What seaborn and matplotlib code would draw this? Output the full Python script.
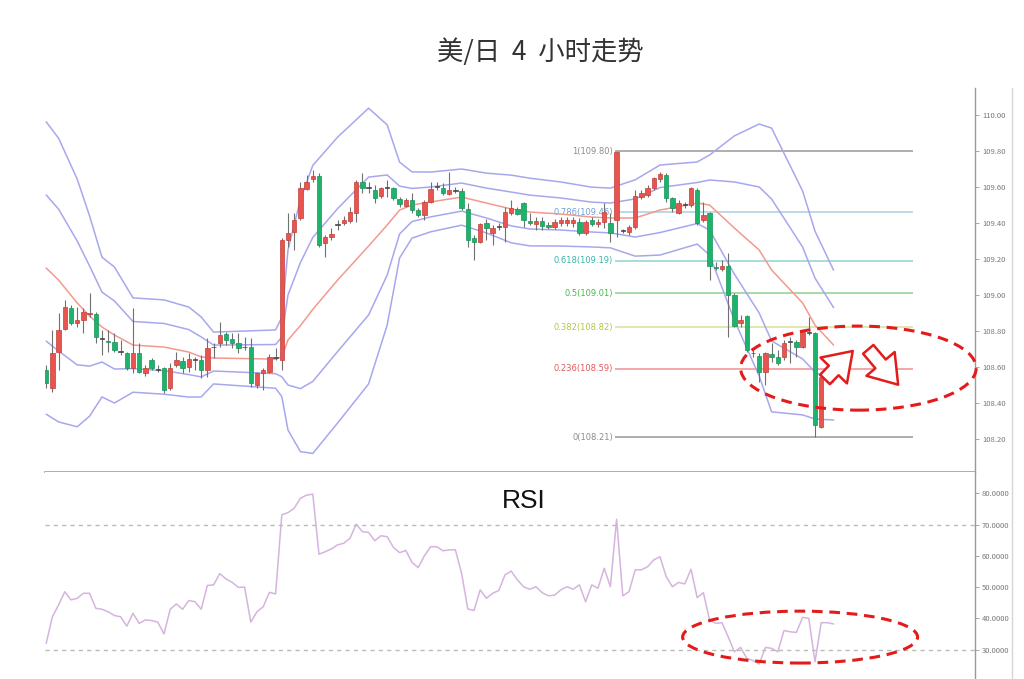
import numpy as np
import pandas as pd
import matplotlib
matplotlib.use("Agg")
import matplotlib.pyplot as plt
import seaborn as sns
from matplotlib.patches import Ellipse, FancyArrowPatch
from matplotlib.lines import Line2D

sns.set_style("white")
plt.rcParams['font.family'] = ['Noto Sans CJK SC', 'DejaVu Sans']

# USD/JPY 4h candles
opens = [108.584, 108.484, 108.684, 108.811, 108.928, 108.845, 108.861, 108.895, 108.895, 108.761,
         108.745, 108.739, 108.689, 108.678, 108.595, 108.678, 108.567, 108.639, 108.589, 108.595,
         108.484, 108.611, 108.634, 108.600, 108.639, 108.639, 108.584, 108.711, 108.734, 108.784,
         108.756, 108.734, 108.711, 108.711, 108.500, 108.567, 108.572, 108.650, 108.639, 109.306,
         109.350, 109.428, 109.589, 109.645, 109.661, 109.289, 109.322, 109.389, 109.400, 109.411,
         109.456, 109.628, 109.595, 109.583, 109.550, 109.595, 109.595, 109.534, 109.495, 109.528,
         109.472, 109.445, 109.517, 109.600, 109.595, 109.561, 109.578, 109.578, 109.478, 109.317,
         109.295, 109.400, 109.345, 109.378, 109.378, 109.456, 109.478, 109.511, 109.411, 109.395,
         109.411, 109.389, 109.378, 109.400, 109.400, 109.400, 109.406, 109.345, 109.417, 109.395,
         109.406, 109.400, 109.417, 109.356, 109.350, 109.378, 109.545, 109.556, 109.595, 109.645,
         109.667, 109.539, 109.456, 109.500, 109.500, 109.583, 109.417, 109.456, 109.156, 109.145,
         109.161, 109.000, 108.845, 108.884, 108.678, 108.661, 108.572, 108.672, 108.656, 108.656,
         108.739, 108.739, 108.711, 108.789, 108.789, 108.267, 108.550, 108.567]
highs = [108.611, 108.806, 108.900, 108.972, 108.945, 108.934, 108.928, 109.011, 108.906, 108.806,
         108.806, 108.789, 108.750, 108.684, 108.928, 108.734, 108.611, 108.650, 108.611, 108.600,
         108.622, 108.684, 108.656, 108.678, 108.656, 108.667, 108.761, 108.734, 108.850, 108.795,
         108.789, 108.789, 108.767, 108.761, 108.572, 108.595, 108.672, 108.706, 109.317, 109.456,
         109.456, 109.628, 109.667, 109.695, 109.678, 109.334, 109.373, 109.417, 109.439, 109.489,
         109.639, 109.678, 109.628, 109.611, 109.600, 109.639, 109.600, 109.545, 109.539, 109.567,
         109.483, 109.528, 109.628, 109.628, 109.622, 109.683, 109.600, 109.595, 109.511, 109.334,
         109.400, 109.423, 109.389, 109.400, 109.489, 109.528, 109.489, 109.517, 109.456, 109.434,
         109.434, 109.406, 109.423, 109.434, 109.434, 109.434, 109.428, 109.417, 109.434, 109.423,
         109.511, 109.456, 109.800, 109.367, 109.389, 109.583, 109.583, 109.611, 109.656, 109.683,
         109.678, 109.545, 109.528, 109.517, 109.600, 109.595, 109.517, 109.461, 109.184, 109.195,
         109.234, 109.011, 108.889, 108.889, 108.695, 108.678, 108.684, 108.734, 108.695, 108.750,
         108.767, 108.750, 108.806, 108.878, 108.795, 108.572, 108.639, 108.584]
lows = [108.484, 108.461, 108.584, 108.806, 108.834, 108.822, 108.789, 108.878, 108.734, 108.667,
        108.684, 108.684, 108.667, 108.584, 108.567, 108.567, 108.550, 108.584, 108.572, 108.456,
        108.472, 108.600, 108.567, 108.572, 108.584, 108.539, 108.545, 108.650, 108.711, 108.722,
        108.706, 108.678, 108.695, 108.489, 108.484, 108.472, 108.567, 108.639, 108.584, 109.267,
        109.250, 109.417, 109.583, 109.628, 109.267, 109.211, 109.306, 109.361, 109.389, 109.400,
        109.406, 109.567, 109.567, 109.511, 109.539, 109.545, 109.528, 109.489, 109.489, 109.456,
        109.434, 109.417, 109.511, 109.583, 109.556, 109.556, 109.567, 109.472, 109.267, 109.195,
        109.289, 109.306, 109.278, 109.361, 109.295, 109.445, 109.445, 109.378, 109.389, 109.361,
        109.361, 109.367, 109.367, 109.384, 109.384, 109.378, 109.334, 109.334, 109.384, 109.378,
        109.373, 109.295, 109.322, 109.345, 109.334, 109.367, 109.534, 109.545, 109.583, 109.628,
        109.517, 109.461, 109.450, 109.483, 109.489, 109.389, 109.406, 109.084, 109.139, 109.134,
        108.767, 108.822, 108.822, 108.684, 108.656, 108.517, 108.500, 108.628, 108.611, 108.639,
        108.622, 108.656, 108.706, 108.778, 108.210, 108.261, 108.528, 108.534]
closes = [108.511, 108.678, 108.806, 108.934, 108.845, 108.861, 108.906, 108.900, 108.767, 108.756,
          108.739, 108.695, 108.684, 108.595, 108.678, 108.572, 108.595, 108.595, 108.586, 108.472,
          108.595, 108.639, 108.595, 108.645, 108.641, 108.584, 108.706, 108.709, 108.778, 108.750,
          108.734, 108.706, 108.709, 108.511, 108.567, 108.584, 108.656, 108.652, 109.306, 109.345,
          109.417, 109.595, 109.628, 109.661, 109.278, 109.322, 109.339, 109.391, 109.417, 109.461,
          109.628, 109.595, 109.597, 109.539, 109.595, 109.597, 109.539, 109.506, 109.528, 109.472,
          109.445, 109.517, 109.589, 109.602, 109.567, 109.583, 109.580, 109.483, 109.306, 109.295,
          109.395, 109.373, 109.373, 109.380, 109.461, 109.483, 109.450, 109.417, 109.400, 109.411,
          109.384, 109.378, 109.406, 109.417, 109.417, 109.417, 109.345, 109.406, 109.395, 109.406,
          109.461, 109.345, 109.795, 109.358, 109.378, 109.550, 109.567, 109.595, 109.650, 109.672,
          109.539, 109.483, 109.511, 109.502, 109.595, 109.400, 109.445, 109.161, 109.150, 109.161,
          109.000, 108.828, 108.861, 108.695, 108.676, 108.572, 108.678, 108.656, 108.622, 108.734,
          108.741, 108.711, 108.795, 108.791, 108.278, 108.545, 108.552, 108.545]

rsi = [32.0, 40.5, 44.3, 48.5, 45.9, 46.4, 48.0, 48.0, 43.2, 42.9,
       42.1, 40.9, 40.5, 37.5, 41.6, 38.4, 39.5, 39.3, 38.8, 35.0,
       42.9, 44.6, 42.9, 45.7, 45.3, 42.9, 50.5, 50.7, 54.3, 52.6,
       51.5, 49.9, 50.0, 38.8, 42.1, 43.7, 48.3, 47.8, 73.1, 73.8,
       75.2, 78.4, 79.4, 79.7, 60.5, 61.3, 62.2, 63.5, 64.0, 65.6,
       70.1, 67.7, 67.5, 64.8, 66.4, 66.1, 62.7, 61.0, 61.7, 57.9,
       56.2, 60.0, 62.9, 62.9, 61.6, 61.9, 61.9, 54.4, 43.0, 42.5,
       49.1, 46.4, 48.0, 48.9, 53.9, 55.1, 52.3, 50.1, 49.3, 50.1,
       48.2, 47.2, 47.4, 49.1, 50.1, 49.3, 50.7, 45.3, 50.7, 49.6,
       56.0, 50.1, 71.7, 47.2, 48.5, 55.5, 55.5, 56.5, 58.7, 59.7,
       53.3, 50.1, 51.5, 51.0, 55.7, 46.6, 48.2, 39.5, 38.4, 38.6,
       34.1, 29.3, 30.7, 27.2, 26.5, 25.4, 30.7, 30.4, 29.3, 36.1,
       35.7, 35.5, 40.3, 40.0, 26.1, 38.6, 38.6, 38.2]

# bollinger middle line and band spacing, sampled at some candles
bb_idx = [0, 2, 5, 7, 9, 11, 14, 19, 23, 25, 27, 37, 38, 39, 41, 43, 47, 52, 55, 57,
          59, 62, 67, 71, 75, 78, 83, 88, 91, 95, 99, 105, 107, 111, 115, 117, 122, 124, 127]
bb_mid = [109.150, 109.083, 108.956, 108.883, 108.822, 108.778, 108.722, 108.711, 108.683, 108.656,
          108.650, 108.644, 108.656, 108.750, 108.830, 108.920, 109.083, 109.272, 109.389, 109.472,
          109.500, 109.517, 109.544, 109.511, 109.478, 109.461, 109.450, 109.433, 109.428, 109.428,
          109.472, 109.511, 109.500, 109.372, 109.250, 109.139, 108.956, 108.833, 108.722]
bb_dev = [0.406, 0.394, 0.344, 0.278, 0.194, 0.189, 0.131, 0.131, 0.125, 0.111,
          0.072, 0.081, 0.110, 0.250, 0.350, 0.400, 0.397, 0.383, 0.278, 0.133,
          0.092, 0.083, 0.078, 0.083, 0.094, 0.094, 0.089, 0.083, 0.083, 0.106,
          0.125, 0.114, 0.139, 0.256, 0.350, 0.394, 0.311, 0.261, 0.208]

fib_ratios = ['1', '0.786', '0.618', '0.5', '0.382', '0.236', '0']
fib_prices = [109.80, 109.46, 109.19, 109.01, 108.82, 108.59, 108.21]
fib_text_colors = ['#8c8c8c', '#6f9fd6', '#36b6a6', '#44bb44', '#b4c83a', '#e05a5a', '#8c8c8c']
fib_line_colors = ['#999999', '#a9cfe0', '#8fd3cb', '#8fd18f', '#d4e29a', '#f09090', '#999999']

price_ticks = [108.2, 108.4, 108.6, 108.8, 109.0, 109.2, 109.4, 109.6, 109.8, 110.0]
rsi_ticks = [30, 40, 50, 60, 70, 80]
rsi_levels = [70, 30]

df = pd.DataFrame({'open': opens, 'high': highs, 'low': lows, 'close': closes, 'rsi': rsi})
df['idx'] = np.arange(len(df))

fig = plt.figure(figsize=(10.24, 6.79), dpi=100)
ax = fig.add_axes([0.0439, 0.3049, 0.9082, 0.5655])
ax2 = fig.add_axes([0.0439, 0.0, 0.9082, 0.3049])

# Bollinger bands
mid = np.array(bb_mid)
dev = np.array(bb_dev)
for k in [-2, -1, 1, 2]:
    sns.lineplot(x=bb_idx, y=mid + k * dev, color='#a7a7ee', linewidth=1.1, ax=ax, zorder=2)
sns.lineplot(x=bb_idx, y=mid, color='#f29a8e', linewidth=1.1, ax=ax, zorder=2)

# fibonacci levels from the top candle
fib_start = int(np.argmax(highs)) - 0.2
fib_end = 139.8
for r, p, tc, lc in zip(fib_ratios, fib_prices, fib_text_colors, fib_line_colors):
    ax.hlines(p, fib_start, fib_end, color=lc, linewidth=1.1, zorder=1)
    ax.text(fib_start - 0.4, p, f'{r}({p:.2f})', color=tc, fontsize=6, ha='right', va='center',
            family='DejaVu Sans', zorder=1)

# candles (red = up, green = down)
body = (df['close'] - df['open']).abs()
doji = body < 0.005
up = df['close'] > df['open']
colors = np.where(doji, '#555555', np.where(up, '#e8554e', '#1db36b'))
edges = np.where(doji, '#444444', np.where(up, '#c0403a', '#17925a'))
ax.vlines(df['idx'], df['low'], df['high'], color='#707070', linewidth=0.8, zorder=3)
ax.bar(df['idx'], np.maximum(body, 0.004), bottom=df[['open', 'close']].min(axis=1),
       width=0.72, color=colors, edgecolor=edges, linewidth=0.5, zorder=4)

ax.set_xlim(-0.2, 149.8)
ax.set_ylim(108.017, 110.15)
ax.set_yticks(price_ticks)
ax.yaxis.set_major_formatter(matplotlib.ticker.FormatStrFormatter('%.2f'))
ax.set_xticks([])

# highlight ellipse and arrows
ax.add_patch(Ellipse((131, 108.594), 38, 0.467, fill=False, edgecolor='#e41b1b', linewidth=2.2,
                     linestyle=(0, (3.5, 2.2)), clip_on=False, zorder=6))
arrow_style = 'simple,head_width=1.9,head_length=1.4,tail_width=0.7'
for a, b in [((125.3, 108.52), (130.4, 108.70)), ((132.3, 108.71), (137.7, 108.49))]:
    ax.add_patch(FancyArrowPatch(a, b, arrowstyle=arrow_style, mutation_scale=14,
                                 facecolor='white', edgecolor='#e41b1b', linewidth=1.8,
                                 zorder=7, clip_on=False))

# RSI panel
sns.lineplot(data=df, x='idx', y='rsi', color='#d5b4de', linewidth=1.1, ax=ax2)
for lv in rsi_levels:
    ax2.axhline(lv, color='#bbbbbb', linewidth=1, linestyle=(0, (3, 3)))
ax2.set_xlim(-0.2, 149.8)
ax2.set_ylim(20.6, 86.8)
ax2.set_yticks(rsi_ticks)
ax2.yaxis.set_major_formatter(matplotlib.ticker.FormatStrFormatter('%.4f'))
ax2.set_xticks([])
ax2.add_patch(Ellipse((121.6, 34.0), 37.9, 16.6, fill=False, edgecolor='#e41b1b', linewidth=2.2,
                      linestyle=(0, (3.5, 2.2)), clip_on=False, zorder=6))
ax2.text(0.515, 0.86, 'RSI', transform=ax2.transAxes, fontsize=19, ha='center', va='center',
         color='#111111', family='Liberation Sans')

for a in [ax, ax2]:
    a.set_xlabel('')
    a.set_ylabel('')
    for s in ['top', 'left', 'bottom']:
        a.spines[s].set_visible(False)
    a.spines['right'].set_color('#999999')
    a.spines['right'].set_linewidth(1)
    a.yaxis.tick_right()
    a.tick_params(axis='y', length=3, width=0.6, color='#999999', labelsize=5.5,
                  labelcolor='#777777', pad=2)
ax.spines['bottom'].set_visible(True)
ax.spines['bottom'].set_color('#a0a0a0')
ax.spines['bottom'].set_linewidth(1.2)

fig.add_artist(Line2D([0.988, 0.988], [0.0, 0.87], transform=fig.transFigure,
                      color='#d6d6d6', linewidth=1))
fig.text(0.528, 0.923, '美/日  4  小时走势', fontsize=19, ha='center', va='center', color='#333333')

fig.savefig('out.png', dpi=100)
